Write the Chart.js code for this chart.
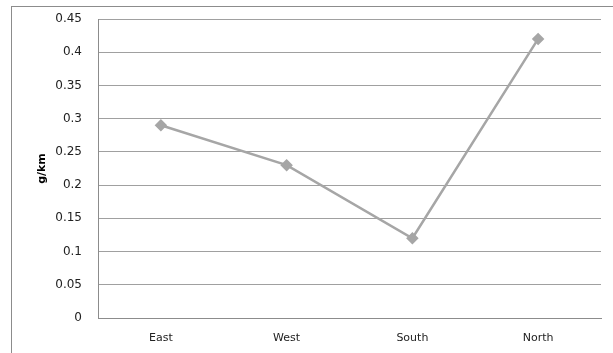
<!DOCTYPE html>
<html lang="en">
<head>
<meta charset="UTF-8">
<title>g/km by region</title>
<script src="https://cdn.jsdelivr.net/npm/chart.js"></script>
<style>
  html, body { margin: 0; padding: 0; background: #fff; overflow: hidden; }
  #wrap { position: relative; width: 613px; height: 353px; }
  #frame { position: absolute; left: 11px; top: 6px; width: 700px; height: 400px; border: 1px solid #8c8c8c; box-sizing: border-box; }
  canvas { position: absolute; left: 0; top: 0; }
</style>
</head>
<body>
<div id="wrap">
  <div id="frame"></div>
  <canvas id="lineGraph" width="613" height="353"></canvas>
</div>
<script>
const regions = ["East", "West", "South", "North"];
const gPerKm = [0.29, 0.23, 0.12, 0.42];
const yMax = 0.45;
const yStep = 0.05;

new Chart(document.getElementById("lineGraph"), {
  type: "line",
  data: {
    labels: regions,
    datasets: [{
      label: "g/km",
      data: gPerKm,
      borderColor: "#a6a6a6",
      backgroundColor: "#a6a6a6",
      borderWidth: 2.5,
      pointStyle: "rectRot",
      pointRadius: 4.5,
      pointHoverRadius: 4.5,
      tension: 0
    }]
  },
  options: {
    responsive: false,
    animation: false,
    layout: { padding: { left: 0, top: 19, right: 12, bottom: 0 } },
    plugins: { legend: { display: false }, tooltip: { enabled: false } },
    scales: {
      x: {
        offset: true,
        grid: { display: false, drawTicks: false },
        border: { color: "#8c8c8c", width: 1 },
        ticks: { color: "#222", padding: 14, font: { family: "DejaVu Sans", size: 11 } },
        afterFit: s => { s.height = 35; s.paddingLeft = 0; s.paddingRight = 0; }
      },
      y: {
        min: 0,
        max: yMax,
        grid: { color: "#a0a0a0", lineWidth: 1, drawTicks: false },
        border: { color: "#8c8c8c", width: 1 },
        ticks: {
          stepSize: yStep,
          color: "#222",
          padding: 16,
          font: { family: "DejaVu Sans", size: 12 },
          callback: v => Number(v.toFixed(2)).toString()
        },
        title: { display: true, text: "g/km", color: "#000", font: { family: "DejaVu Sans", size: 11, weight: "bold" }, padding: { top: 36, bottom: 0 } },
        afterFit: s => { s.width = 98; s.paddingTop = 0; s.paddingBottom = 0; }
      }
    }
  }
});
</script>
</body>
</html>
